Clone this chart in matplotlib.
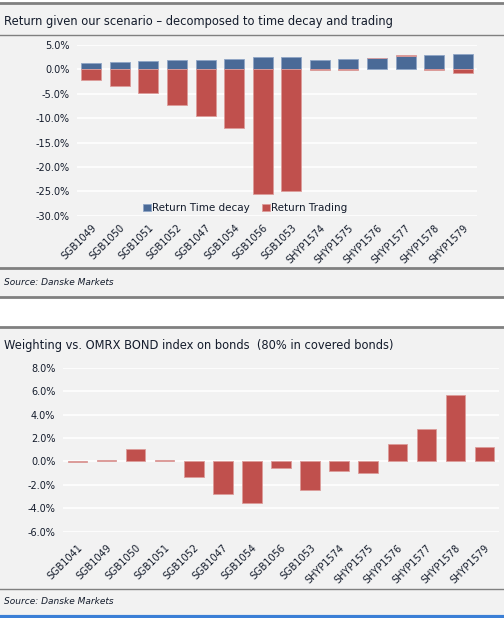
"""
Two Danske Markets bar panels: return decomposition and index weighting.
"""
import numpy as np
import matplotlib
matplotlib.use("Agg")
import matplotlib.pyplot as plt
from matplotlib.patches import Rectangle
from matplotlib.lines import Line2D
from matplotlib.ticker import FuncFormatter

# ── Data ────────────────────────────────────────────────────────────────
bonds_top = ["SGB1049", "SGB1050", "SGB1051", "SGB1052", "SGB1047", "SGB1054",
             "SGB1056", "SGB1053", "SHYP1574", "SHYP1575", "SHYP1576",
             "SHYP1577", "SHYP1578", "SHYP1579"]
time_decay = [1.4, 1.6, 1.7, 1.9, 2.0, 2.1, 2.6, 2.6, 2.0, 2.1, 2.3, 2.7, 3.0, 3.2]
trading = [-2.2, -3.4, -4.9, -7.2, -9.5, -12.0, -25.5, -24.9,
           -0.2, -0.2, 0.1, 0.15, -0.1, -0.8]

bonds_bottom = ["SGB1041", "SGB1049", "SGB1050", "SGB1051", "SGB1052", "SGB1047",
                "SGB1054", "SGB1056", "SGB1053", "SHYP1574", "SHYP1575",
                "SHYP1576", "SHYP1577", "SHYP1578", "SHYP1579"]
weighting = [-0.05, 0.08, 1.1, 0.08, -1.3, -2.75, -3.55, -0.6, -2.45,
             -0.85, -0.95, 1.45, 2.75, 5.65, 1.25]

# ── Style ───────────────────────────────────────────────────────────────
W, H = 504, 618
BG = "#f2f2f2"
BLUE, BLUE_EDGE = "#4a6a97", "#8fa5c6"
RED, RED_EDGE = "#c0504d", "#dc9c9a"
GREY = "#808080"
TXT = "#141c2c"
FONT = "DejaVu Sans"
plt.rcParams["font.family"] = FONT


def fx(x):
    return x / W


def fy(y):
    return 1 - y / H


def hline(fig, y, lw, color=GREY, x0=0, x1=W):
    fig.add_artist(Line2D([fx(x0), fx(x1)], [fy(y), fy(y)], color=color, lw=lw))


def axes_px(fig, left, top, right, bottom):
    return fig.add_axes([fx(left), fy(bottom), fx(right - left), (bottom - top) / H])


def style_axes(ax, ymin, ymax, step, labels):
    ax.set_facecolor(BG)
    for s in ax.spines.values():
        s.set_visible(False)
    ax.set_ylim(ymin, ymax)
    ax.set_yticks(np.arange(ymin, ymax + step / 2, step))
    ax.yaxis.set_major_formatter(FuncFormatter(lambda v, p: f"{v:.1f}%"))
    ax.grid(axis="y", color="white", lw=1.2)
    ax.set_axisbelow(True)
    ax.tick_params(length=0, labelsize=7, colors=TXT)
    ax.tick_params(axis="y", pad=5.5)
    ax.set_xlim(-0.5, len(labels) - 0.5)
    ax.set_xticks(range(len(labels)))
    ax.set_xticklabels(labels, rotation=45, ha="right", va="top",
                       rotation_mode="anchor")


fig = plt.figure(figsize=(W / 100, H / 100), dpi=100)
fig.patch.set_facecolor("white")

# panel backgrounds, kept behind the axes
for top, bot in [(4, 297), (328, 615)]:
    fig.add_artist(Rectangle((0, fy(bot)), 1, fy(top) - fy(bot), color=BG,
                             lw=0, zorder=-5))

# ── Top panel ───────────────────────────────────────────────────────────
hline(fig, 3, 2)
fig.text(fx(4), fy(21), "Return given our scenario \u2013 decomposed to time decay and trading",
         fontsize=8.3, color=TXT, va="center")
hline(fig, 34.5, 1)

ax1 = axes_px(fig, 77, 45, 477, 215.7)
style_axes(ax1, -30, 5, 5, bonds_top)
ax1.tick_params(axis="x", pad=5)
x = np.arange(len(bonds_top))
td = np.array(time_decay)
tr = np.array(trading)
ax1.bar(x, td, width=0.7, color=BLUE, edgecolor=BLUE_EDGE, lw=0.6,
        label="Return Time decay")
ax1.bar(x, tr, width=0.7, bottom=np.where(tr > 0, td, 0), color=RED,
        edgecolor=RED_EDGE, lw=0.6, label="Return Trading")
ax1.legend(loc="center", bbox_to_anchor=(fx(245), fy(208)),
           bbox_transform=fig.transFigure, ncol=2, frameon=False, fontsize=7.5,
           handlelength=0.75, handleheight=0.75, handletextpad=0.1,
           columnspacing=1.2, labelcolor=TXT)

hline(fig, 268.5, 2)
fig.text(fx(4), fy(282.5), "Source: Danske Markets", fontsize=6.5,
         style="italic", color=TXT, va="center")
hline(fig, 296.5, 2)

# ── Bottom panel ────────────────────────────────────────────────────────
hline(fig, 327, 2)
fig.text(fx(4), fy(345), "Weighting vs. OMRX BOND index on bonds  (80% in covered bonds)",
         fontsize=8.3, color=TXT, va="center")

ax2 = axes_px(fig, 63, 367.7, 499, 531.7)
style_axes(ax2, -6, 8, 2, bonds_bottom)
ax2.tick_params(axis="x", pad=8)
ax2.bar(np.arange(len(bonds_bottom)), weighting, width=0.67, color=RED,
        edgecolor=RED_EDGE, lw=0.6)

hline(fig, 589, 1)
fig.text(fx(4), fy(602), "Source: Danske Markets", fontsize=6.5,
         style="italic", color=TXT, va="center")
hline(fig, 616.5, 3, color="#3b7fd6")

fig.savefig("out.png", dpi=100, facecolor=fig.get_facecolor())
